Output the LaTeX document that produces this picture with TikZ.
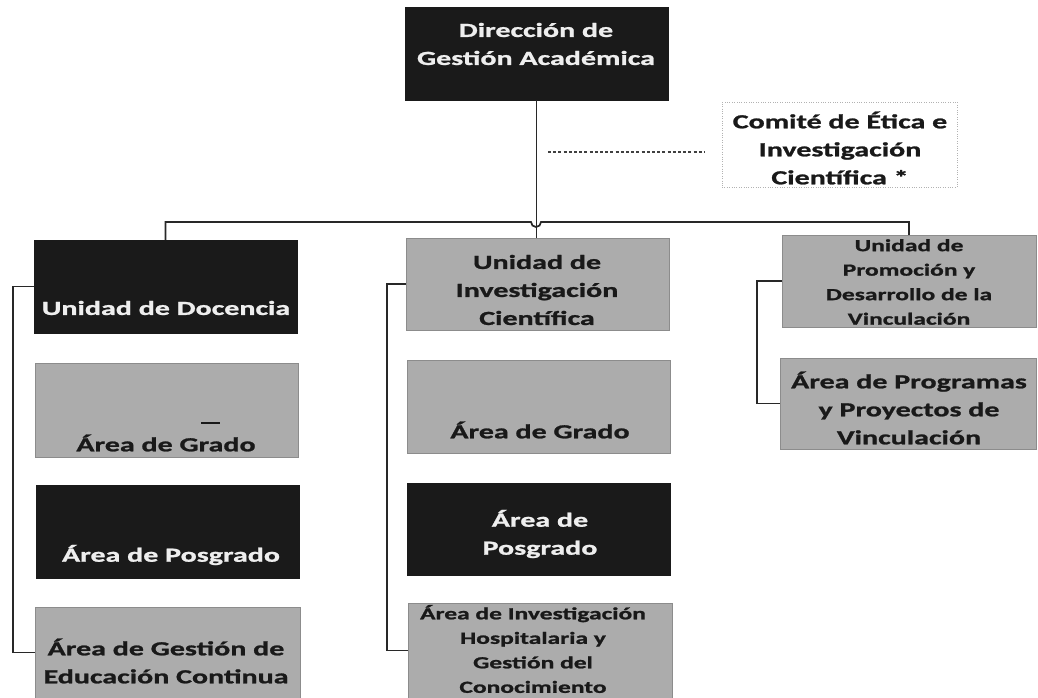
\documentclass[tikz,border=0pt]{standalone}
\usepackage{fontspec}
\setmainfont{Carlito}[FakeStretch=1.5, BoldFeatures={FakeBold=1.2}]
\definecolor{boxdark}{RGB}{26,26,26}
\definecolor{boxgray}{RGB}{172,172,172}
\definecolor{grayedge}{RGB}{140,140,140}
\definecolor{inkdark}{RGB}{25,25,25}
\definecolor{inklight}{RGB}{238,238,238}
\definecolor{linecol}{RGB}{40,40,40}
\tikzset{
  darkbox/.style={draw=boxdark, fill=boxdark, rectangle, inner sep=0pt},
  graybox/.style={draw=grayedge, fill=boxgray, rectangle, inner sep=0pt},
  comitebox/.style={draw=gray!60, dotted, rectangle, inner sep=0pt},
  bigtxt/.style={align=center, inner sep=0pt, font=\bfseries\fontsize{20}{28}\selectfont},
  smalltxt/.style={align=center, inner sep=0pt, font=\bfseries\fontsize{17}{24.5}\selectfont},
  onlight/.style={text=inkdark},
  ondark/.style={text=inklight},
  conn/.style={draw=linecol, line width=1.7pt},
  dashconn/.style={draw=gray!50!black, line width=1.1pt, dash pattern=on 3pt off 2.2pt},
}
\newcommand{\bx}[6]{% style, name, x1, y1, x2, y2
  \node[#1, minimum width={#5-#3}, minimum height={#6-#4}] (#2) at ({(#3+#5)/2},{(#4+#6)/2}) {};}
\begin{document}
\begin{tikzpicture}[x=1pt, y=-1pt]
\useasboundingbox[fill=white] (0,0) rectangle (1038,698);
% boxes
\bx{darkbox}{dir}{405}{7}{668}{100}
\bx{comitebox}{comite}{722}{102}{957}{187}
\bx{darkbox}{doc}{34}{240}{297}{333}
\bx{graybox}{lgrado}{35}{363}{298}{457}
\bx{darkbox}{lpos}{36}{485}{299}{578}
\bx{graybox}{lgest}{35}{607}{300}{698}
\bx{graybox}{uic}{406}{238}{669}{330}
\bx{graybox}{mgrado}{407}{360}{670}{453}
\bx{darkbox}{mpos}{407}{483}{670}{575}
\bx{graybox}{mhosp}{408}{603}{672}{698}
\bx{graybox}{upro}{782}{235}{1036}{327}
\bx{graybox}{apro}{780}{358}{1036}{449}
% texts
\node[bigtxt, ondark] (tdir) at (536,44) {Dirección de\\Gestión Académica};
\node[bigtxt, onlight] (tcom) at (840,148) {Comité de Ética e\\Investigación\\Científica *};
\node[bigtxt, ondark] (tdoc) at (166,308) {Unidad de Docencia};
\node[bigtxt, onlight] (tlgr) at (166,443) {Área de Grado};
\node[bigtxt, ondark] (tlpo) at (171,555) {Área de Posgrado};
\node[bigtxt, onlight] (tlge) at (166,661) {Área de Gestión de\\Educación Continua};
\node[bigtxt, onlight] (tuic) at (537,290) {Unidad de\\Investigación\\Científica};
\node[bigtxt, onlight] (tmgr) at (540,430) {Área de Grado};
\node[bigtxt, ondark] (tmpo) at (540,534) {Área de\\Posgrado};
\node[smalltxt, onlight] (tmho) at (533,649) {Área de Investigación\\Hospitalaria y\\Gestión del\\Conocimiento};
\node[smalltxt, onlight] (tupr) at (909,282) {Unidad de\\Promoción y\\Desarrollo de la\\Vinculación};
\node[bigtxt, onlight] (tapr) at (909,408) {Área de Programas\\y Proyectos de\\Vinculación};
% small mark above "Grado"
\coordinate (m1) at (201,423);
\coordinate (m2) at (220,423);
\draw[draw=inkdark, line width=1.4pt] (m1) -- (m2);
% connectors
\draw[conn] (dir.south) -- (dir.south |- uic.north);
\coordinate (hopL) at (531,222);
\draw[conn] (doc.north) |- (hopL) arc[start angle=180, end angle=0, radius=5] -| (upro.north);
\coordinate (dj) at (548,152);
\draw[dashconn] (dj) -- ([xshift=-17pt]comite.west |- dj);
\draw[conn] (doc.west) -- ++(-21,0) |- (lgest.west);
\draw[conn] (uic.west) -- ++(-19,0) |- (mhosp.west);
\draw[conn] (upro.west) -- ++(-25,0) |- (apro.west);
\end{tikzpicture}
\end{document}
